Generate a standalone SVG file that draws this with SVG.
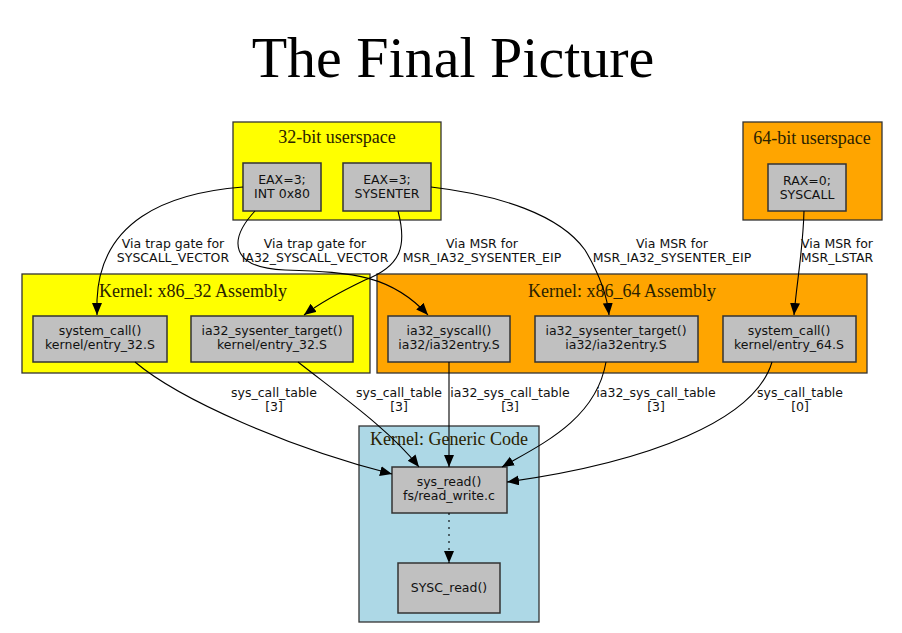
<svg xmlns="http://www.w3.org/2000/svg" width="902" height="633" viewBox="0 0 902 633">
<style>
.title{font-family:"Liberation Serif",serif;font-size:58px;fill:#000;text-anchor:middle}
.cl{stroke:#333;stroke-width:1.3}
.cll{font-family:"Liberation Serif",serif;font-size:18px;fill:#2a2200;text-anchor:middle}
.nd rect{fill:#c0c0c0;stroke:#333;stroke-width:1.5}
.nd text,.el{font-family:"DejaVu Sans",sans-serif;font-size:12.5px;fill:#111;text-anchor:middle}
.ed path{fill:none;stroke:#000;stroke-width:1.1}
</style>
<defs>
<marker id="ah" markerUnits="userSpaceOnUse" markerWidth="13" markerHeight="11" refX="12" refY="5" orient="auto">
<path d="M0,0 L12,5 L0,10 Z" fill="#000"/>
</marker>
</defs>
<rect width="902" height="633" fill="#fff"/>
<text class="title" x="453" y="77">The Final Picture</text>

<g id="cluster-32user">
<rect class="cl" x="233" y="122" width="208" height="98" fill="#ffff00"/>
<text class="cll" x="337" y="143">32-bit userspace</text>
</g>
<g id="cluster-64user">
<rect class="cl" x="743" y="122" width="139" height="98" fill="#ffa500"/>
<text class="cll" x="812" y="144">64-bit userspace</text>
</g>
<g id="cluster-k32">
<rect class="cl" x="22" y="274" width="348" height="99" fill="#ffff00"/>
<text class="cll" x="193" y="297">Kernel: x86_32 Assembly</text>
</g>
<g id="cluster-k64">
<rect class="cl" x="377" y="274" width="490" height="99" fill="#ffa500"/>
<text class="cll" x="622" y="297">Kernel: x86_64 Assembly</text>
</g>
<g id="cluster-generic">
<rect class="cl" x="359" y="426" width="180" height="196" fill="#add8e6"/>
<text class="cll" x="449" y="445">Kernel: Generic Code</text>
</g>

<g id="int80" class="nd">
<rect x="243" y="163" width="78" height="48"/>
<text x="282" y="184">EAX=3;</text>
<text x="282" y="198">INT 0x80</text>
</g>
<g id="sysenter" class="nd">
<rect x="343" y="163" width="88" height="48"/>
<text x="387" y="184">EAX=3;</text>
<text x="387" y="198">SYSENTER</text>
</g>
<g id="syscall" class="nd">
<rect x="768" y="164" width="78" height="47"/>
<text x="807" y="185">RAX=0;</text>
<text x="807" y="199">SYSCALL</text>
</g>
<g id="system_call32" class="nd">
<rect x="33" y="316" width="134" height="46"/>
<text x="100" y="335">system_call()</text>
<text x="100" y="349">kernel/entry_32.S</text>
</g>
<g id="sysenter_target32" class="nd">
<rect x="191" y="316" width="162" height="46"/>
<text x="272" y="335">ia32_sysenter_target()</text>
<text x="272" y="349">kernel/entry_32.S</text>
</g>
<g id="ia32_syscall" class="nd">
<rect x="388" y="316" width="122" height="46"/>
<text x="449" y="335">ia32_syscall()</text>
<text x="449" y="349">ia32/ia32entry.S</text>
</g>
<g id="sysenter_target64" class="nd">
<rect x="535" y="316" width="163" height="46"/>
<text x="616" y="335">ia32_sysenter_target()</text>
<text x="616" y="349">ia32/ia32entry.S</text>
</g>
<g id="system_call64" class="nd">
<rect x="723" y="316" width="133" height="46"/>
<text x="789" y="335">system_call()</text>
<text x="789" y="349">kernel/entry_64.S</text>
</g>
<g id="sys_read" class="nd">
<rect x="392" y="467" width="115" height="46"/>
<text x="449" y="486">sys_read()</text>
<text x="449" y="500">fs/read_write.c</text>
</g>
<g id="SYSC_read" class="nd">
<rect x="398" y="563" width="102" height="50"/>
<text x="449" y="592">SYSC_read()</text>
</g>

<g id="connectors" class="ed">
<path d="M243,187 C165,193 100,222 97,300 L97,315" marker-end="url(#ah)"/>
<path d="M255,211 C228,240 230,268 285,270 C355,272 392,276 428,315" marker-end="url(#ah)"/>
<path d="M398,211 C407,245 402,266 365,280 C340,292 320,303 304,315" marker-end="url(#ah)"/>
<path d="M431,187 C500,195 560,215 585,250 C600,275 607,295 609,315" marker-end="url(#ah)"/>
<path d="M804,211 C803,250 797,280 794,315" marker-end="url(#ah)"/>
<path d="M135,362 C180,400 290,448 392,474" marker-end="url(#ah)"/>
<path d="M298,362 C340,395 390,430 419,467" marker-end="url(#ah)"/>
<path d="M449,362 L449,467" marker-end="url(#ah)"/>
<path d="M606,362 C596,420 540,445 502,467" marker-end="url(#ah)"/>
<path d="M772,362 C755,420 650,462 507,482" marker-end="url(#ah)"/>
<path d="M449,513 L449,563" stroke-dasharray="2,5" marker-end="url(#ah)"/>
</g>

<g id="edge-labels">
<text class="el" x="173" y="248">Via trap gate for</text>
<text class="el" x="173" y="262">SYSCALL_VECTOR</text>
<text class="el" x="315" y="248">Via trap gate for</text>
<text class="el" x="315" y="262">IA32_SYSCALL_VECTOR</text>
<text class="el" x="482" y="248">Via MSR for</text>
<text class="el" x="482" y="262">MSR_IA32_SYSENTER_EIP</text>
<text class="el" x="672" y="248">Via MSR for</text>
<text class="el" x="672" y="262">MSR_IA32_SYSENTER_EIP</text>
<text class="el" x="837" y="248">Via MSR for</text>
<text class="el" x="837" y="262">MSR_LSTAR</text>
<text class="el" x="274" y="397">sys_call_table</text>
<text class="el" x="274" y="411">[3]</text>
<text class="el" x="399" y="397">sys_call_table</text>
<text class="el" x="399" y="411">[3]</text>
<text class="el" x="510" y="397">ia32_sys_call_table</text>
<text class="el" x="510" y="411">[3]</text>
<text class="el" x="656" y="397">ia32_sys_call_table</text>
<text class="el" x="656" y="411">[3]</text>
<text class="el" x="800" y="397">sys_call_table</text>
<text class="el" x="800" y="411">[0]</text>
</g>
</svg>
